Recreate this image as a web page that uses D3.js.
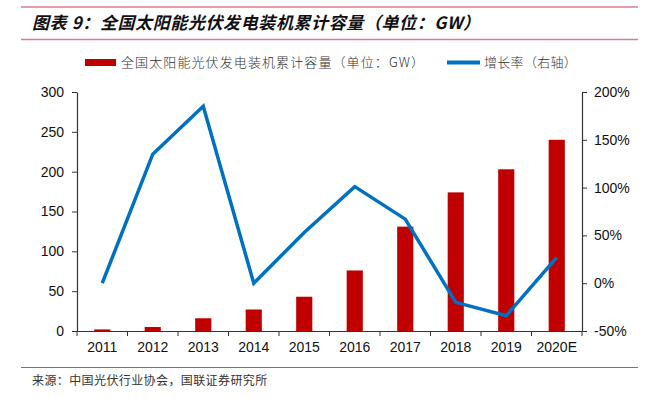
<!DOCTYPE html>
<html>
<head>
<meta charset="utf-8">
<script src="https://cdn.jsdelivr.net/npm/d3@7"></script>
<style>
  body { margin: 0; background: #fff; }
  svg { display: block; }
</style>
</head>
<body>
<div id="chart"></div>
<script>
var years = ["2011", "2012", "2013", "2014", "2015", "2016", "2017", "2018", "2019", "2020E"]
var capacity = [2, 5, 16, 27, 43, 76, 131, 174, 203, 240]
var growth = [0, 135, 185, 0, 53, 101, 67, -20, -34, 27]
var leftTicks = [0, 50, 100, 150, 200, 250, 300]
var rightTicks = [-50, 0, 50, 100, 150, 200]

var W = 655, H = 398
var plotL = 77, plotR = 582, plotT = 92, plotB = 331
var sans = "'Liberation Sans', Arial, sans-serif"
var cjk = "'Noto Sans CJK SC', 'Noto Sans', sans-serif"

var svg = d3.select("#chart").append("svg")
  .attr("width", W)
  .attr("height", H)

// header + footer rules
svg.append("line").attr("x1", 21).attr("x2", 638).attr("y1", 7).attr("y2", 7)
  .attr("stroke", "#dc7b8e").attr("stroke-width", 1.5)
svg.append("line").attr("x1", 21).attr("x2", 638).attr("y1", 39.5).attr("y2", 39.5)
  .attr("stroke", "#dc7b8e").attr("stroke-width", 1.5)
svg.append("line").attr("x1", 21).attr("x2", 638).attr("y1", 367.5).attr("y2", 367.5)
  .attr("stroke", "#d6485f").attr("stroke-width", 1.2)

svg.append("text")
  .text("图表 9：全国太阳能光伏发电装机累计容量（单位：GW）")
  .attr("x", 32)
  .attr("y", 29)
  .attr("font-family", cjk)
  .attr("font-size", 17)
  .attr("font-weight", "bold")
  .attr("font-style", "italic")
  .attr("letter-spacing", 0.6)
  .attr("fill", "#111")

svg.append("text")
  .text("来源：中国光伏行业协会，国联证券研究所")
  .attr("x", 32)
  .attr("y", 385)
  .attr("font-family", cjk)
  .attr("font-size", 12)
  .attr("letter-spacing", 0.4)
  .attr("fill", "#333")

// legend
svg.append("rect").attr("x", 85).attr("y", 59).attr("width", 31).attr("height", 7).attr("fill", "#c00000")
svg.append("text")
  .text("全国太阳能光伏发电装机累计容量（单位：GW）")
  .attr("x", 121)
  .attr("y", 67)
  .attr("font-family", cjk)
  .attr("font-size", 13)
  .attr("font-weight", 300)
  .attr("letter-spacing", 1.1)
  .attr("fill", "#333")
svg.append("line").attr("x1", 447).attr("x2", 480).attr("y1", 62.5).attr("y2", 62.5)
  .attr("stroke", "#0070c0").attr("stroke-width", 4)
svg.append("text")
  .text("增长率（右轴）")
  .attr("x", 484)
  .attr("y", 67)
  .attr("font-family", cjk)
  .attr("font-size", 13)
  .attr("font-weight", 300)
  .attr("letter-spacing", 0.3)
  .attr("fill", "#333")

// scales
var x = d3.scaleBand().domain(years).range([plotL, plotR]).paddingInner(0.68).paddingOuter(0.34)
var xb = d3.scaleBand().domain(years).range([plotL, plotR])
var y = d3.scaleLinear().domain([0, 300]).range([plotB, plotT])
var y2 = d3.scaleLinear().domain([-50, 200]).range([plotB, plotT])

// bars
svg.selectAll("bar")
  .data(capacity)
  .enter()
  .append("rect")
  .attr("x", (d, i) => x(years[i]))
  .attr("y", d => y(d))
  .attr("width", x.bandwidth())
  .attr("height", d => plotB - y(d))
  .attr("fill", "#c00000")

// growth line
var line = d3.line()
  .x((d, i) => xb(years[i]) + xb.bandwidth() / 2)
  .y(d => y2(d))
svg.append("path")
  .datum(growth)
  .attr("d", line)
  .attr("fill", "none")
  .attr("stroke", "#0070c0")
  .attr("stroke-width", 3.5)
  .attr("stroke-linejoin", "miter")

// axes
var axisColor = "#333"
var gl = svg.append("g").attr("transform", "translate(" + plotL + ",0)")
  .call(d3.axisLeft(y).tickValues(leftTicks).tickSize(5).tickSizeOuter(0).tickPadding(8))
var gr = svg.append("g").attr("transform", "translate(" + plotR + ",0)")
  .call(d3.axisRight(y2).tickValues(rightTicks).tickSize(5).tickSizeOuter(0).tickPadding(7).tickFormat(d => d + "%"))
var gx = svg.append("g").attr("transform", "translate(0," + plotB + ")")
  .call(d3.axisBottom(xb).tickSize(0).tickPadding(11))

// category boundary ticks
svg.selectAll("xtick")
  .data(d3.range(years.length + 1))
  .enter()
  .append("line")
  .attr("x1", i => plotL + i * xb.step())
  .attr("x2", i => plotL + i * xb.step())
  .attr("y1", plotB)
  .attr("y2", plotB + 5)
  .attr("stroke", axisColor)

;[gl, gr, gx].forEach(g => {
  g.selectAll("path").attr("stroke", axisColor).attr("stroke-width", 1.2)
  g.selectAll("line").attr("stroke", axisColor)
  g.selectAll("text").attr("font-family", sans).attr("font-size", 14).attr("fill", "#111")
})
</script>
</body>
</html>
